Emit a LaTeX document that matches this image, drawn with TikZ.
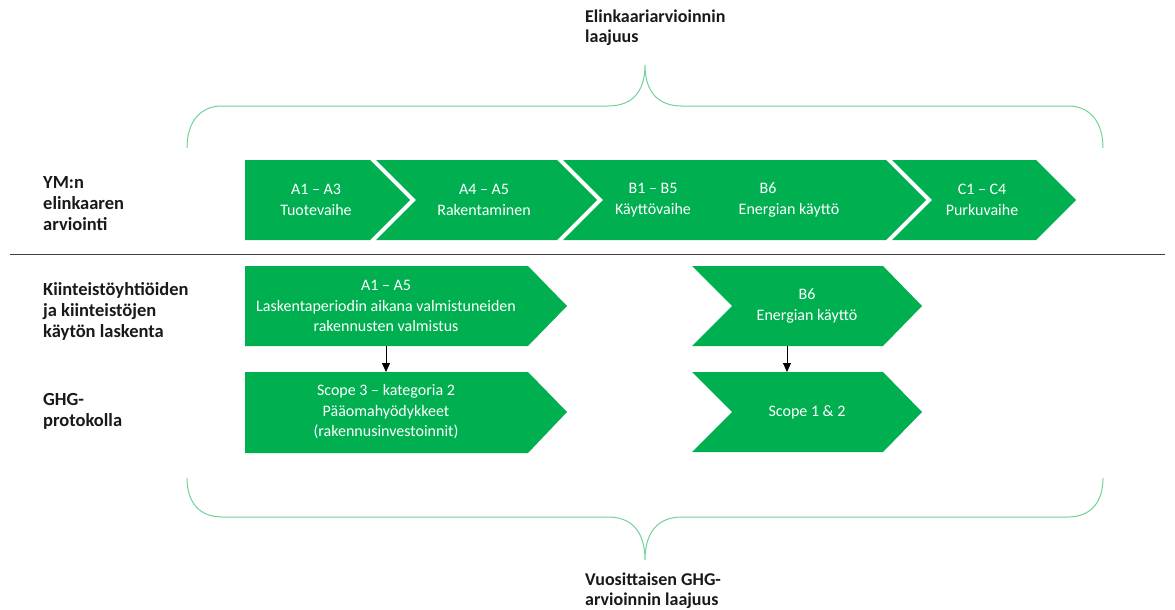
\documentclass[tikz,border=0pt]{standalone}
\usepackage{fontspec}
\setmainfont{Carlito}
\usetikzlibrary{arrows.meta}
\definecolor{grn}{HTML}{00B050}
\definecolor{brc}{HTML}{6FD396}
\begin{document}
\begin{tikzpicture}[x=1pt,y=-1pt,
  shp/.style={fill=grn,draw=none},
  wt/.style={text=white,font=\fontsize{16}{20.5}\selectfont,align=center,inner sep=0pt},
  lbl/.style={font=\bfseries\fontsize{18.5}{21}\selectfont,align=left,anchor=west,inner sep=0pt,text=black!90},
  blbl/.style={font=\bfseries\fontsize{18}{20}\selectfont,align=left,anchor=west,inner sep=0pt,text=black!90},
  brace/.style={draw=brc,line width=1pt},
  arr/.style={-{Triangle[length=9pt,width=8pt]},line width=0.8pt,draw=black}]
\useasboundingbox (0,0) rectangle (1175,610);
% top row
\path[shp] (245,160) -- (370,160) -- (410,200) -- (370,240) -- (245,240) -- cycle;
\path[shp] (376,160) -- (557,160) -- (597,200) -- (557,240) -- (376,240) -- (416,200) -- cycle;
\path[shp] (563,160) -- (886,160) -- (926,200) -- (886,240) -- (563,240) -- (603,200) -- cycle;
\path[shp] (892,160) -- (1036,160) -- (1076,200) -- (1036,240) -- (892,240) -- (932,200) -- cycle;
\node[wt] (t1) at (316,200) {A1 – A3\\Tuotevaihe};
\node[wt] (t2) at (484,200) {A4 – A5\\Rakentaminen};
\node[wt] (t3) at (653,200) {B1 – B5\\Käyttövaihe};
\node[wt] (t3b) at (789,200) {B6\hspace*{42pt}\\Energian käyttö};
\node[wt] (t4) at (982,200) {C1 – C4\\Purkuvaihe};
% separator
\coordinate (sepL) at (10,254);
\coordinate (sepR) at (1165,254);
\draw[line width=1pt,draw=black!75] (sepL) -- (sepR);
% second row
\path[shp] (245,266) -- (528,266) -- (567,306) -- (528,346) -- (245,346) -- cycle;
\node[wt] (a15) at (386,306) {A1 – A5\\Laskentaperiodin aikana valmistuneiden\\rakennusten valmistus};
\path[shp] (692,266) -- (883,266) -- (922,306) -- (883,346) -- (692,346) -- (732,306) -- cycle;
\node[wt] (b6) at (807,306) {B6\\Energian käyttö};
% third row
\path[shp] (245,372) -- (528,372) -- (567,412) -- (528,453) -- (245,453) -- cycle;
\node[wt] (s3) at (386,412) {Scope 3 – kategoria 2\\Pääomahyödykkeet\\(rakennusinvestoinnit)};
\path[shp] (692,372) -- (883,372) -- (922,412) -- (883,452) -- (692,452) -- (732,412) -- cycle;
\node[wt] (s12) at (807,412) {Scope 1 \& 2};
% arrows
\coordinate (a15b) at (386,346);
\coordinate (s3t) at (386,372);
\coordinate (b6b) at (787,346);
\coordinate (s12t) at (787,372);
\draw[arr] (a15b) -- (s3t);
\draw[arr] (b6b) -- (s12t);
% braces
\draw[brace] (187,148) .. controls (187,122) and (200,106) .. (222,106) -- (608,106) .. controls (632,106) and (645,92) .. (645,65) .. controls (645,92) and (658,106) .. (682,106) -- (1068,106) .. controls (1090,106) and (1103,122) .. (1103,148);
\draw[brace] (187,478) .. controls (187,503) and (200,517) .. (222,517) -- (608,517) .. controls (632,517) and (645,532) .. (645,560) .. controls (645,532) and (658,517) .. (682,517) -- (1068,517) .. controls (1090,517) and (1103,503) .. (1103,478);
% labels
\node[lbl] (ym) at (43,204) {YM:n\\elinkaaren\\arviointi};
\node[lbl] (kiin) at (43,311) {Kiinteistöyhtiöiden\\ja kiinteistöjen\\käytön laskenta};
\node[lbl] (ghg) at (43,411) {GHG-\\protokolla};
\node[blbl] (elk) at (585,28) {Elinkaariarvioinnin\\laajuus};
\node[blbl] (vuo) at (585,591) {Vuosittaisen GHG-\\arvioinnin laajuus};
\end{tikzpicture}
\end{document}
